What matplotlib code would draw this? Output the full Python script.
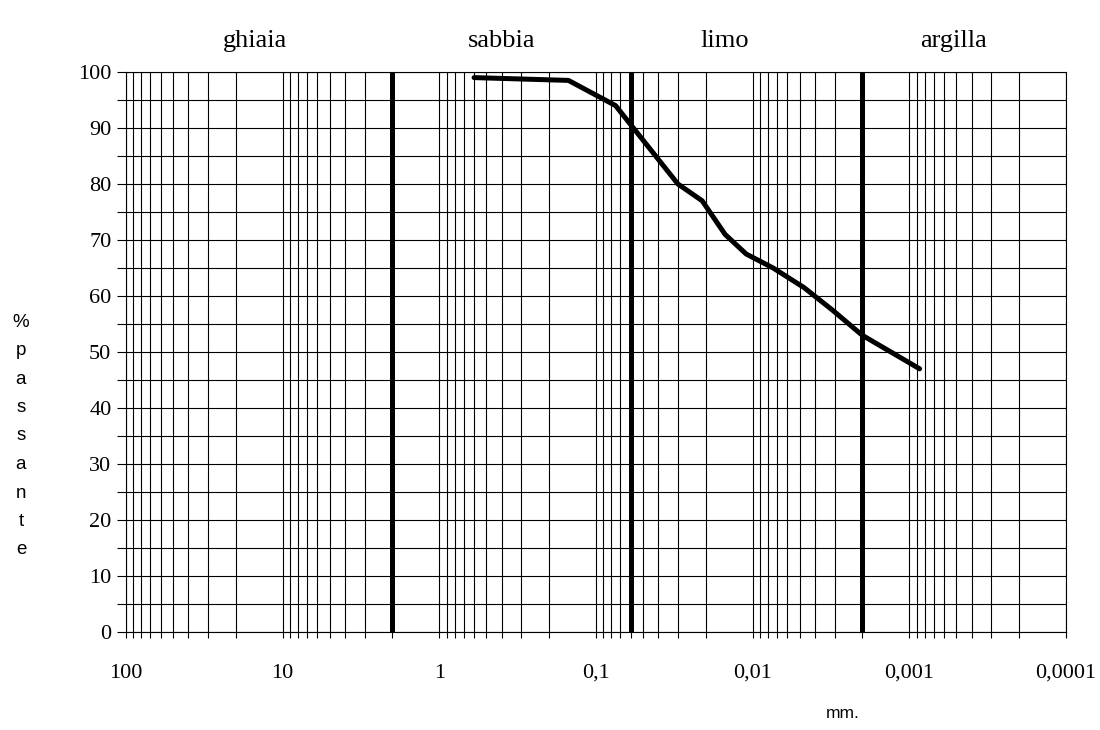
import matplotlib.pyplot as plt
from matplotlib.ticker import FixedLocator, LogLocator, MultipleLocator, NullFormatter

plt.rcParams['font.family'] = ['Liberation Serif', 'DejaVu Serif']

# curva granulometrica (diametro mm, % passante)
diametri = [0.6, 0.15, 0.075, 0.03, 0.021, 0.015, 0.011, 0.0074, 0.0047, 0.0031, 0.002, 0.00086]
passante = [99, 98.5, 94, 80, 77, 71, 67.5, 65, 61.5, 57.5, 53, 47]

# limiti tra le classi: ghiaia/sabbia, sabbia/limo, limo/argilla
limiti = [2, 0.06, 0.002]
classi = ["ghiaia", "sabbia", "limo", "argilla"]
pos_classi = [15, 0.4, 0.015, 0.00052]

x_ticks = [100, 10, 1, 0.1, 0.01, 0.001, 0.0001]
x_labels = ["100", "10", "1", "0,1", "0,01", "0,001", "0,0001"]

W, H = 1100, 730
fig = plt.figure(figsize=(W / 100, H / 100), dpi=100)
ax = fig.add_axes([126 / W, 1 - 632 / H, (1066 - 126) / W, (632 - 72) / H])

ax.set_xscale('log')
ax.set_xlim(100, 0.0001)
ax.set_ylim(0, 100)

ax.xaxis.set_major_locator(FixedLocator(x_ticks))
ax.xaxis.set_minor_locator(LogLocator(base=10, subs=(2, 3, 4, 5, 6, 7, 8, 9), numticks=30))
ax.xaxis.set_minor_formatter(NullFormatter())
ax.set_xticks(x_ticks, labels=x_labels)
ax.yaxis.set_major_locator(MultipleLocator(10))
ax.yaxis.set_minor_locator(MultipleLocator(5))

ax.grid(True, which='both', color='black', lw=0.8)
ax.set_axisbelow(True)
ax.tick_params(which='both', direction='out', color='black', width=0.8)
ax.tick_params(axis='x', which='both', length=4, pad=19, labelsize=16)
ax.tick_params(axis='y', which='both', length=6.5, pad=4, labelsize=16)
for s in ax.spines.values():
    s.set_linewidth(0.8)

for d in limiti:
    ax.axvline(d, color='black', lw=3.6, solid_capstyle='butt')

ax.plot(diametri, passante, color='black', lw=3.6,
        solid_joinstyle='round', solid_capstyle='round', clip_on=False)

for nome, xc in zip(classi, pos_classi):
    ax.text(xc, 1.055, nome, transform=ax.get_xaxis_transform(),
            ha='center', va='center', fontsize=19)

fig.text(843 / W, 1 - 713 / H, "mm.", ha='center', va='center',
         fontsize=12.5, family=['Liberation Sans', 'DejaVu Sans'])

for i, ch in enumerate("%passante"):
    fig.text(21 / W, 1 - (322 + i * 28.5) / H, ch, ha='center', va='center',
             fontsize=13.5, family=['Liberation Sans', 'DejaVu Sans'])

fig.savefig("out.png", dpi=100, facecolor='white')
